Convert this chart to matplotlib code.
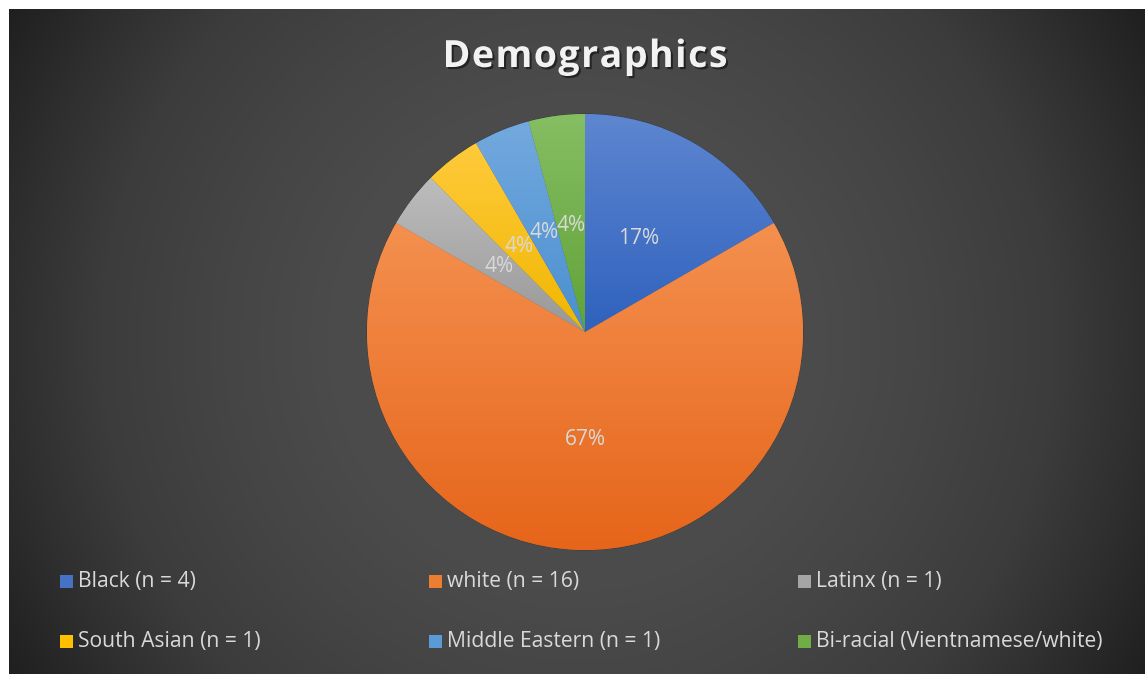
import numpy as np
import matplotlib
matplotlib.use("Agg")
import matplotlib.pyplot as plt
import matplotlib.patheffects as pe
from matplotlib.colors import to_rgb
from matplotlib.patches import Rectangle

#-------------------#
# Data
#-------------------#
labels = ["Black (n = 4)", "white (n = 16)", "Latinx (n = 1)",
          "South Asian (n = 1)", "Middle Eastern (n = 1)",
          "Bi-racial (Vientnamese/white)"]
counts = [4, 16, 1, 1, 1, 1]
title = "Demographics"

#-------------------#
# Styles
#-------------------#
colors = ["#4472C4", "#ED7D31", "#A5A5A5", "#FFC000", "#5B9BD5", "#70AD47"]
tops = ["#5E86D0", "#F4904F", "#BDBDBD", "#FFCA3C", "#73A9DE", "#86BE63"]
bots = ["#2F62BE", "#E6651A", "#989898", "#F0B700", "#4A8FD0", "#60A238"]

#-------------------#
# Figure / helpers
#-------------------#
W, H = 1145, 674
fig = plt.figure(figsize=(W / 100, H / 100), dpi=100)
fig.patch.set_facecolor("white")

def fx(px):
	return px / W

def fy(py):
	# py measured from top
	return 1 - py / H

#-------------------#
# Background radial gradient
#-------------------#
bg = fig.add_axes([fx(9), 0, fx(W - 9), 1 - 9 / H])
bg.set_axis_off()
yy, xx = np.mgrid[9:H, 9:W]
dist = np.hypot(xx - 577, yy - 341)
stops_d = [0, 250, 354, 477, 563, 660]
stops_v = [0x4f, 0x4b, 0x45, 0x3c, 0x2f, 0x1f]
val = np.interp(dist, stops_d, stops_v) / 255.0
img = np.dstack([val, val, val])
bg.imshow(img, aspect="auto", extent=(0, 1, 0, 1), origin="upper")
bg.set_xlim(0, 1)
bg.set_ylim(0, 1)

#-------------------#
# Pie
#-------------------#
half = 230
ax = fig.add_axes([fx(585 - half), (H - 332 - half) / H, 2 * half / W, 2 * half / H])
ax.set_axis_off()
R = 218 / half
wedges, texts, autotexts = ax.pie(
	counts, colors=colors, startangle=90, counterclock=False, radius=R,
	autopct="%1.0f%%", pctdistance=0.495,
	wedgeprops=dict(linewidth=0.6, edgecolor=(0, 0, 0, 0.25)),
	textprops=dict(color="#D9D9D9", fontsize=15, family="Open Sans"))

# vertical gradient on each wedge (lighter top, darker bottom)
for w, ct, cb in zip(wedges, tops, bots):
	ext = w.get_path().get_extents()
	t = np.linspace(0, 1, 128)[:, None]
	top = np.array(to_rgb(ct))
	bot = np.array(to_rgb(cb))
	grad = (bot[None, :] * (1 - t) + top[None, :] * t)[:, None, :]
	im = ax.imshow(grad, extent=(ext.x0, ext.x1, ext.y0, ext.y1),
		origin="lower", aspect="auto", zorder=1.5)
	im.set_clip_path(w)

ax.set_xlim(-1, 1)
ax.set_ylim(-1, 1)
ax.set_aspect("auto")
for t in autotexts:
	t.set_zorder(5)

#-------------------#
# Title (letter spaced)
#-------------------#
renderer = fig.canvas.get_renderer()
tkw = dict(fontsize=27, fontweight="bold", family="Open Sans", color="#F2F2F2",
	path_effects=[pe.withSimplePatchShadow(offset=(1.5, -1.5), shadow_rgbFace="black", alpha=0.5)])
widths = []
for ch in title:
	tt = fig.text(0, 0, ch, **tkw)
	widths.append(tt.get_window_extent(renderer).width)
	tt.remove()
spacing = 1.5
total = sum(widths) + spacing * (len(title) - 1)
x = 585 - total / 2
for ch, wd in zip(title, widths):
	fig.text(fx(x), fy(57), ch, ha="left", va="center", **tkw)
	x += wd + spacing

#-------------------#
# Legend
#-------------------#
col_x = [60, 429, 798]
row_y = [581, 641]
sq = 13
for i, (lab, c) in enumerate(zip(labels, colors)):
	x = col_x[i % 3]
	y = row_y[i // 3]
	fig.patches.append(Rectangle((fx(x), fy(y + sq / 2)), sq / W, sq / H,
		transform=fig.transFigure, facecolor=c, edgecolor="none"))
	fig.text(fx(x + 18), fy(y + 1), lab, ha="left", va="center",
		fontsize=15.2, family="Open Sans", color="#D9D9D9")

fig.savefig("out.png", dpi=100)
